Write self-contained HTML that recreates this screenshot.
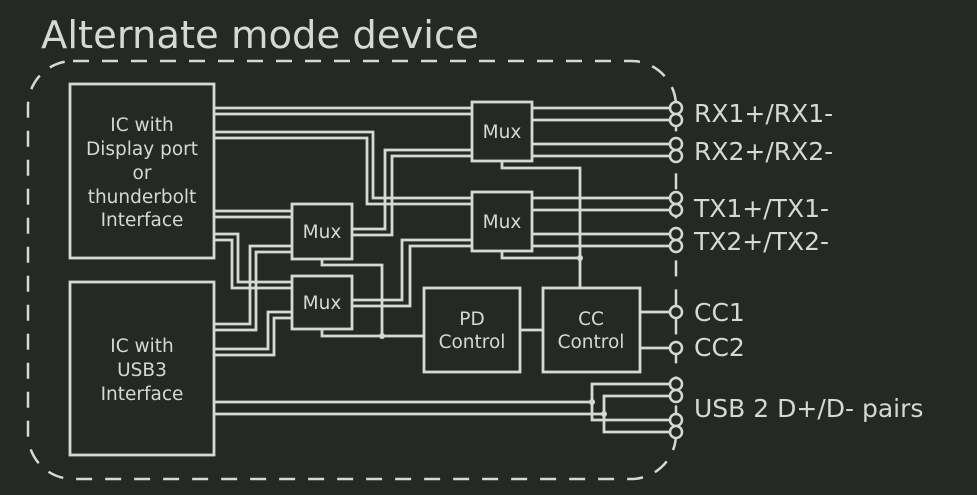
<!DOCTYPE html>
<html><head><meta charset="utf-8"><style>
html,body{margin:0;padding:0;background:#262826;}
svg{display:block}
text{font-family:"DejaVu Sans","Liberation Sans",sans-serif;fill:#d6d8d4}
</style></head><body>
<svg width="977" height="495" viewBox="0 0 977 495" xmlns="http://www.w3.org/2000/svg">
<rect width="977" height="495" fill="#262826"/>
<text x="41" y="48" font-size="38.5">Alternate mode device</text>
<rect x="28" y="61" width="648" height="418" rx="45" ry="45" fill="none" stroke="#d6d8d4" stroke-width="2.5" stroke-dasharray="16 13"/>
<g fill="none" stroke="#d6d8d4" stroke-width="2.8">
<rect x="70" y="84" width="144" height="174" fill="#262826"/>
<rect x="70" y="282" width="144" height="173" fill="#262826"/>
<rect x="292" y="204" width="60" height="55"/>
<rect x="292" y="276" width="60" height="53"/>
<rect x="472" y="102" width="60" height="59"/>
<rect x="472" y="192" width="60" height="59"/>
<rect x="424" y="288" width="96" height="84"/>
<rect x="543" y="288" width="97" height="84"/>
<path d="M214 108H472M214 114H472"/>
<path d="M214 132H373V198H472M214 138H367V204H472"/>
<path d="M532 108H670M532 120H670M532 144H670M532 156H670"/>
<path d="M532 198H670M532 210H670M532 234H670M532 246H670"/>
<path d="M352 229H385V150H472M352 235H392V156H472"/>
<path d="M352 300H402V240H472M352 306H410V246H472"/>
<path d="M502 161V168H580V288M502 251V258H580"/>
<path d="M322 259V265H382V336M322 329V336H424M520 330H543"/>
<path d="M214 211H292M214 217H292"/>
<path d="M214 234H238V282H292M214 240H232V288H292"/>
<path d="M214 324H250V246H292M214 330H256V252H292"/>
<path d="M214 349H268V312H292M214 355H274V318H292"/>
<path d="M640 312H670M640 348H670"/>
<path d="M214 402H592M214 414H604"/>
<path d="M670 384H592V420H670M670 396H604V432H670"/>
</g>
<g fill="#d6d8d4">
<circle cx="580" cy="258" r="3"/>
<circle cx="382" cy="336" r="3"/>
<circle cx="592" cy="402" r="3"/>
<circle cx="604" cy="414" r="3"/>
</g>
<g fill="#262826" stroke="#d6d8d4" stroke-width="2.5">
<circle cx="676" cy="108" r="6"/><circle cx="676" cy="120" r="6"/>
<circle cx="676" cy="144" r="6"/><circle cx="676" cy="156" r="6"/>
<circle cx="676" cy="198" r="6"/><circle cx="676" cy="210" r="6"/>
<circle cx="676" cy="234" r="6"/><circle cx="676" cy="246" r="6"/>
<circle cx="676" cy="312" r="6"/><circle cx="676" cy="348" r="6"/>
<circle cx="676" cy="384" r="6"/><circle cx="676" cy="396" r="6"/>
<circle cx="676" cy="420" r="6"/><circle cx="676" cy="432" r="6"/>
</g>
<g font-size="18.5" text-anchor="middle">
<text x="142" y="131">IC with</text>
<text x="142" y="155">Display port</text>
<text x="142" y="179">or</text>
<text x="142" y="203">thunderbolt</text>
<text x="142" y="226">Interface</text>
<text x="142" y="352">IC with</text>
<text x="142" y="376">USB3</text>
<text x="142" y="400">Interface</text>
<text x="322" y="238">Mux</text>
<text x="322" y="309">Mux</text>
<text x="502" y="138">Mux</text>
<text x="502" y="228">Mux</text>
<text x="472" y="325">PD</text>
<text x="472" y="348">Control</text>
<text x="591" y="325">CC</text>
<text x="591" y="348">Control</text>
</g>
<g font-size="25">
<text x="694" y="122">RX1+/RX1-</text>
<text x="694" y="160">RX2+/RX2-</text>
<text x="694" y="217">TX1+/TX1-</text>
<text x="694" y="250">TX2+/TX2-</text>
<text x="694" y="321">CC1</text>
<text x="694" y="356">CC2</text>
<text x="694" y="417">USB 2 D+/D- pairs</text>
</g>
</svg>
</body></html>
